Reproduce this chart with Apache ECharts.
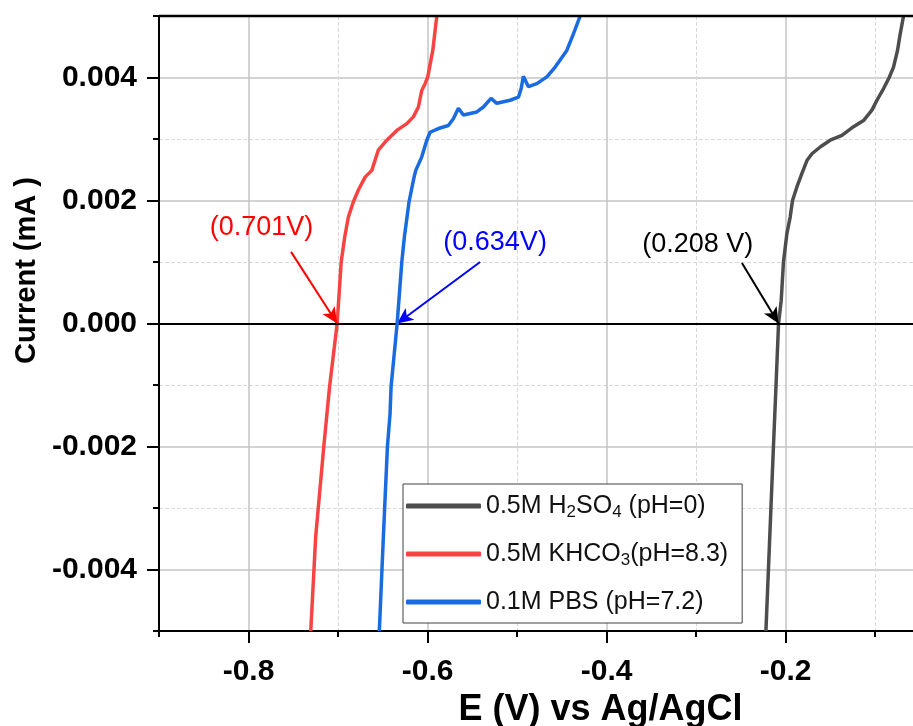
<!DOCTYPE html>
<html>
<head>
<meta charset="utf-8">
<script src="https://cdn.jsdelivr.net/npm/echarts@6/dist/echarts.min.js"></script>
<style>
  html, body { margin: 0; padding: 0; background: #fff; }
  #chart { width: 913px; height: 726px; }
</style>
</head>
<body>
<div id="chart"></div>
<script>
// Linear sweep readings: potential E (V vs Ag/AgCl) and current (mA)
const h2so4E = [-0.2221, -0.2193, -0.2137, -0.2108, -0.208, -0.205, -0.2025, -0.1987, -0.195, -0.1924,
  -0.1875, -0.1819, -0.1763, -0.1707, -0.1615, -0.1503, -0.1372, -0.1242, -0.1131, -0.1037,
  -0.0981, -0.0907, -0.0844, -0.0796, -0.0751, -0.0721, -0.0684];
const h2so4I = [-0.005, -0.004, -0.002, -0.001, 0, 0.00038, 0.001, 0.00146, 0.00173, 0.002,
  0.00222, 0.00244, 0.00265, 0.00276, 0.00287, 0.00298, 0.00306, 0.0032, 0.0033, 0.00347,
  0.00363, 0.00382, 0.004, 0.00417, 0.00444, 0.00471, 0.005];

const khco3E = [-0.7305, -0.7250, -0.7160, -0.7095, -0.701, -0.6965, -0.6925, -0.6885, -0.6829, -0.6773,
  -0.6698, -0.6623, -0.655, -0.6456, -0.6344, -0.6232, -0.6159, -0.6103, -0.6065, -0.6028,
  -0.5998, -0.5942, -0.5897];
const khco3I = [-0.005, -0.00347, -0.00201, -0.00103, 0, 0.001, 0.00141, 0.00173, 0.00198, 0.00217,
  0.00238, 0.00249, 0.00282, 0.00298, 0.00314, 0.00325, 0.00336, 0.00352, 0.00379, 0.0039,
  0.00401, 0.00444, 0.005];

const pbsE = [-0.6539, -0.6494, -0.6449, -0.6419, -0.6408, -0.634, -0.6288, -0.6259, -0.6207, -0.6151,
  -0.6132, -0.6065, -0.6009, -0.5972, -0.5879, -0.5768, -0.5712, -0.5656, -0.56, -0.545,
  -0.5377, -0.5291, -0.5227, -0.5078, -0.4985, -0.4955, -0.493, -0.4874, -0.478, -0.4668,
  -0.4575, -0.4445, -0.4371, -0.4296];
const pbsI = [-0.005, -0.00347, -0.00201, -0.00146, -0.00103, 0, 0.001, 0.00141, 0.00198, 0.00238,
  0.00249, 0.00271, 0.00298, 0.00311, 0.00317, 0.00322, 0.00333, 0.0035, 0.00339, 0.00344,
  0.00352, 0.00366, 0.00358, 0.00363, 0.00368, 0.00382, 0.00402, 0.00385, 0.0039, 0.00401,
  0.00417, 0.00444, 0.00471, 0.005];

const seriesNames = ['0.5M H2SO4 (pH=0)', '0.5M KHCO3(pH=8.3)', '0.1M PBS (pH=7.2)'];
const onsetPotentials = [-0.208, -0.701, -0.634];
const onsetLabels = ['(0.208 V)', '(0.701V)', '(0.634V)'];

const xMajorTicks = [-0.8, -0.6, -0.4, -0.2];
const yMajorTicks = [-0.004, -0.002, 0, 0.002, 0.004];
const xMin = -0.9;
const xMax = -0.05;
const yMin = -0.005;
const yMax = 0.005;

const FONT = '"Liberation Sans", Arial, Helvetica, sans-serif';
const CLEAR = 'rgba(0,0,0,0)';

const pairs = (xs, ys) => xs.map((x, i) => [x, ys[i]]);

// legend text with chemical subscripts
const legendText = {
  '0.5M H2SO4 (pH=0)': '0.5M H{sub|2}SO{sub|4} (pH=0)',
  '0.5M KHCO3(pH=8.3)': '0.5M KHCO{sub|3}(pH=8.3)',
  '0.1M PBS (pH=7.2)': '0.1M PBS (pH=7.2)'
};

// placement of the onset annotations (arrow tail and text centre, data units)
const annot = [
  { color: '#000000', tail: [-0.2489, 0.000985], text: [-0.2983, 0.00129] },
  { color: '#ff0000', tail: [-0.7525, 0.001164], text: [-0.7855, 0.001565] },
  { color: '#0000ff', tail: [-0.5413, 0.001001], text: [-0.5246, 0.001321] }
];

const lineColors = ['#4d4d4d', '#f84343', '#1a6ae0'];
const curves = [pairs(h2so4E, h2so4I), pairs(khco3E, khco3I), pairs(pbsE, pbsI)];

const series = curves.map((data, i) => {
  const a = annot[i];
  const mlData = [[
    { coord: a.tail, symbol: 'none' },
    { coord: [onsetPotentials[i], 0], symbol: 'arrow', symbolSize: [11, 16] }
  ]];
  if (i === 0) {
    // zero-current reference line
    mlData.unshift({ yAxis: 0, lineStyle: { color: '#000', width: 2, type: 'solid' } });
  }
  return {
    name: seriesNames[i],
    type: 'line',
    xAxisIndex: 0,
    yAxisIndex: 0,
    data: data,
    showSymbol: false,
    symbol: 'none',
    smooth: false,
    z: 3 + i,
    lineStyle: { color: lineColors[i], width: 3.5 },
    itemStyle: { color: lineColors[i] },
    emphasis: { disabled: true },
    markLine: {
      silent: true,
      animation: false,
      symbol: ['none', 'none'],
      label: { show: false },
      lineStyle: { color: a.color, width: 2, type: 'solid' },
      emphasis: { disabled: true },
      data: mlData
    },
    markPoint: {
      silent: true,
      animation: false,
      symbol: 'circle',
      symbolSize: 1,
      itemStyle: { color: CLEAR },
      label: {
        show: true, position: 'inside', formatter: onsetLabels[i],
        color: a.color, fontSize: 27, fontFamily: FONT
      },
      data: [{ coord: a.text }]
    }
  };
});

// top edge of the plot frame
series.push({
  name: 'frame-top',
  type: 'line',
  xAxisIndex: 0,
  yAxisIndex: 0,
  data: [[xMin, yMax], [xMax, yMax]],
  showSymbol: false,
  symbol: 'none',
  clip: false,
  silent: true,
  z: 10,
  lineStyle: { color: '#000', width: 2.5 },
  emphasis: { disabled: true }
});

const xBase = { type: 'value', min: xMin, max: xMax, interval: 0.1, gridIndex: 0, position: 'bottom' };
const yBase = { type: 'value', min: yMin, max: yMax, interval: 0.001, gridIndex: 0, position: 'left' };
const hidden = {
  axisLine: { show: false, onZero: false },
  axisTick: { show: false },
  axisLabel: { show: false }
};
// split lines coloured by tick index (first line = axis minimum)
const gridLines = (colors, type, width) => ({
  show: true, showMinLine: true, showMaxLine: true,
  lineStyle: { color: colors, type: type, width: width }
});

const option = {
  animation: false,
  backgroundColor: '#ffffff',
  grid: {
    left: 159, top: 16, width: 761, height: 615,
    outerBoundsMode: 'none',
    containLabel: false,
    show: true, backgroundColor: '#ffffff', borderColor: '#000', borderWidth: 2
  },
  xAxis: [
    {
      ...xBase,
      axisLine: { onZero: false, lineStyle: { color: '#000', width: 2 } },
      axisTick: { length: 12, customValues: xMajorTicks, lineStyle: { color: '#000', width: 2 } },
      axisLabel: {
        customValues: xMajorTicks, formatter: v => v.toFixed(1),
        fontSize: 30, fontWeight: 'bold', color: '#000', margin: 26, fontFamily: FONT
      },
      splitLine: { show: false },
      name: 'E (V) vs Ag/AgCl',
      nameLocation: 'middle',
      nameGap: 60,
      nameTextStyle: { fontSize: 36, fontWeight: 'bold', color: '#000', fontFamily: FONT, padding: [0, 0, 0, 122] }
    },
    {
      ...xBase,
      axisLine: { show: false, onZero: false },
      axisTick: { length: 6, lineStyle: { color: '#000', width: 2 } },
      axisLabel: { show: false },
      splitLine: gridLines([CLEAR, '#c4c4c4'], 'solid', 1.5)
    },
    {
      ...xBase,
      ...hidden,
      splitLine: gridLines(['#d9d9d9', CLEAR], 'dashed', 1)
    }
  ],
  yAxis: [
    {
      ...yBase,
      axisLine: { onZero: false, lineStyle: { color: '#000', width: 2 } },
      axisTick: { length: 12, customValues: yMajorTicks, lineStyle: { color: '#000', width: 2 } },
      axisLabel: {
        customValues: yMajorTicks, formatter: v => v.toFixed(3),
        fontSize: 30, fontWeight: 'bold', color: '#000', margin: 22, fontFamily: FONT
      },
      splitLine: { show: false },
      name: 'Current (mA )',
      nameLocation: 'middle',
      nameRotate: 90,
      nameGap: 116,
      nameTextStyle: { fontSize: 29, fontWeight: 'bold', color: '#000', fontFamily: FONT, padding: [0, 0, 0, 106] }
    },
    {
      ...yBase,
      axisLine: { show: false, onZero: false },
      axisTick: { length: 6, lineStyle: { color: '#000', width: 2 } },
      axisLabel: { show: false },
      splitLine: gridLines([CLEAR, '#c4c4c4'], 'solid', 1.5)
    },
    {
      ...yBase,
      ...hidden,
      splitLine: gridLines(['#d9d9d9', CLEAR], 'dashed', 1)
    }
  ],
  legend: {
    orient: 'vertical',
    left: 403,
    top: 484,
    data: seriesNames,
    selectedMode: false,
    icon: 'roundRect',
    itemWidth: 75,
    itemHeight: 5,
    itemGap: 18,
    padding: [7, 14, 6, 3],
    backgroundColor: '#ffffff',
    borderColor: '#404040',
    borderWidth: 1,
    formatter: name => legendText[name],
    textStyle: {
      fontSize: 25, lineHeight: 30, color: '#111', fontFamily: FONT,
      rich: { sub: { fontSize: 17, lineHeight: 4, verticalAlign: 'bottom', fontFamily: FONT, color: '#111' } }
    }
  },
  series: series
};

const chart = echarts.init(document.getElementById('chart'));
chart.setOption(option);
</script>
</body>
</html>
